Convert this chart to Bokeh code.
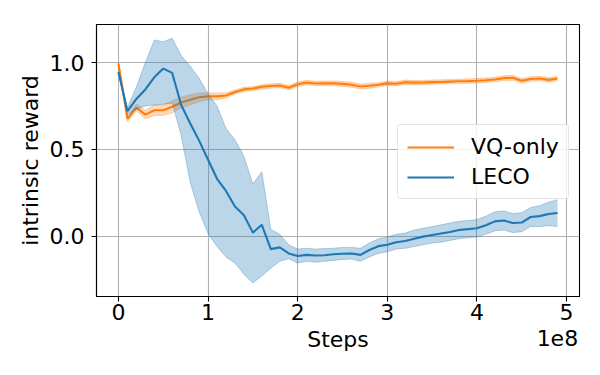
from bokeh.plotting import figure
from bokeh.models import Range1d, FixedTicker, PrintfTickFormatter, CustomJSTickFormatter, Label, Legend, LegendItem
from bokeh.embed import file_html
from bokeh.resources import INLINE

steps = [i * 1e7 for i in range(50)]

leco_mean = [0.945, 0.72, 0.79, 0.845, 0.915, 0.965, 0.94, 0.755, 0.65, 0.55,
             0.44, 0.33, 0.26, 0.17, 0.12, 0.02, 0.065, -0.075, -0.065, -0.10,
             -0.115, -0.108, -0.112, -0.11, -0.105, -0.102, -0.10, -0.108, -0.08, -0.058,
             -0.05, -0.035, -0.028, -0.015, -0.003, 0.006, 0.015, 0.024, 0.035, 0.04,
             0.045, 0.062, 0.085, 0.09, 0.075, 0.078, 0.11, 0.115, 0.127, 0.133]
leco_lo = [0.94, 0.70, 0.73, 0.75, 0.755, 0.76, 0.765, 0.58, 0.31, 0.14,
           0.014, -0.06, -0.12, -0.155, -0.22, -0.27, -0.23, -0.185, -0.145, -0.13,
           -0.155, -0.145, -0.15, -0.145, -0.14, -0.135, -0.132, -0.145, -0.12, -0.10,
           -0.09, -0.075, -0.07, -0.06, -0.05, -0.04, -0.035, -0.025, -0.015, -0.01,
           -0.005, 0.01, 0.03, 0.035, 0.02, 0.025, 0.055, 0.055, 0.06, 0.055]
leco_hi = [0.95, 0.74, 0.86, 1.0, 1.13, 1.12, 1.14, 1.04, 0.98, 0.91,
           0.82, 0.75, 0.62, 0.555, 0.46, 0.30, 0.37, 0.04, 0.01, -0.05,
           -0.075, -0.07, -0.075, -0.072, -0.07, -0.065, -0.065, -0.07, -0.04, -0.015,
           -0.005, 0.01, 0.018, 0.035, 0.045, 0.055, 0.065, 0.075, 0.085, 0.09,
           0.095, 0.115, 0.14, 0.145, 0.13, 0.135, 0.165, 0.175, 0.195, 0.21]

vq_mean = [0.995, 0.675, 0.74, 0.70, 0.725, 0.725, 0.745, 0.77, 0.785, 0.80,
           0.805, 0.805, 0.81, 0.83, 0.845, 0.85, 0.86, 0.865, 0.868, 0.855,
           0.875, 0.885, 0.879, 0.88, 0.88, 0.877, 0.872, 0.862, 0.866, 0.872,
           0.88, 0.878, 0.886, 0.884, 0.885, 0.887, 0.888, 0.89, 0.892, 0.893,
           0.895, 0.898, 0.902, 0.91, 0.912, 0.895, 0.905, 0.908, 0.90, 0.908]
vq_lo = [0.99, 0.66, 0.72, 0.675, 0.695, 0.695, 0.71, 0.74, 0.755, 0.775,
         0.785, 0.785, 0.795, 0.818, 0.833, 0.838, 0.848, 0.853, 0.856, 0.842,
         0.862, 0.872, 0.866, 0.867, 0.866, 0.863, 0.858, 0.848, 0.852, 0.86,
         0.867, 0.865, 0.873, 0.872, 0.873, 0.875, 0.876, 0.878, 0.88, 0.88,
         0.882, 0.885, 0.889, 0.896, 0.898, 0.882, 0.892, 0.895, 0.887, 0.896]
vq_hi = [1.0, 0.69, 0.76, 0.725, 0.755, 0.755, 0.78, 0.80, 0.815, 0.825,
         0.825, 0.825, 0.825, 0.842, 0.857, 0.862, 0.872, 0.877, 0.88, 0.868,
         0.888, 0.898, 0.892, 0.893, 0.894, 0.891, 0.886, 0.876, 0.88, 0.884,
         0.893, 0.891, 0.899, 0.896, 0.897, 0.899, 0.9, 0.902, 0.904, 0.906,
         0.908, 0.911, 0.915, 0.924, 0.926, 0.908, 0.918, 0.921, 0.913, 0.92]

x_ticks = [0, 1e8, 2e8, 3e8, 4e8, 5e8]
y_ticks = [0.0, 0.5, 1.0]

ORANGE = "#ff7f0e"
BLUE = "#1f77b4"
FONT = "DejaVu Sans"
FS = "22px"

p = figure(width=600, height=375, output_backend="svg", toolbar_location=None,
           x_range=Range1d(-0.245e8, 5.145e8), y_range=Range1d(-0.348, 1.219),
           min_border_left=96, min_border_right=21, min_border_top=24, min_border_bottom=79)

p.outline_line_color = "black"
p.outline_line_width = 1.1
p.background_fill_color = "white"
p.border_fill_color = "white"

for ax in (p.xaxis[0], p.yaxis[0]):
    ax.axis_line_color = "black"
    ax.axis_line_width = 1.1
    ax.major_tick_line_color = "black"
    ax.major_tick_line_width = 1.1
    ax.major_tick_out = 5
    ax.major_tick_in = 0
    ax.minor_tick_line_color = None
    ax.major_label_text_font = FONT
    ax.major_label_text_font_size = FS
    ax.major_label_text_color = "black"
    ax.axis_label_text_font = FONT
    ax.axis_label_text_font_size = FS
    ax.axis_label_text_font_style = "normal"
    ax.axis_label_text_color = "black"

p.xaxis.ticker = FixedTicker(ticks=x_ticks)
p.xaxis.formatter = CustomJSTickFormatter(code="return (tick/1e8).toFixed(0);")
p.xaxis.major_label_standoff = 2
p.xaxis.axis_label = "Steps"
p.xaxis.axis_label_standoff = 4

p.yaxis.ticker = FixedTicker(ticks=y_ticks)
p.yaxis.formatter = PrintfTickFormatter(format="%.1f")
p.yaxis.major_label_standoff = 7
p.yaxis.axis_label = "intrinsic reward"
p.yaxis.axis_label_standoff = 4

p.grid.grid_line_color = "#b0b0b0"
p.grid.grid_line_width = 1.1

p.varea(x=steps, y1=vq_lo, y2=vq_hi, fill_color=ORANGE, fill_alpha=0.3)
p.line(x=steps, y=vq_lo, line_color=ORANGE, line_alpha=0.3, line_width=1)
p.line(x=steps, y=vq_hi, line_color=ORANGE, line_alpha=0.3, line_width=1)
l_vq = p.line(x=steps, y=vq_mean, line_color=ORANGE, line_width=2.1)
p.varea(x=steps, y1=leco_lo, y2=leco_hi, fill_color=BLUE, fill_alpha=0.3)
p.line(x=steps, y=leco_lo, line_color=BLUE, line_alpha=0.3, line_width=1)
p.line(x=steps, y=leco_hi, line_color=BLUE, line_alpha=0.3, line_width=1)
l_leco = p.line(x=steps, y=leco_mean, line_color=BLUE, line_width=2.1)

legend = Legend(items=[LegendItem(label="VQ-only", renderers=[l_vq]),
                       LegendItem(label="LECO", renderers=[l_leco])],
                location=(301, 97))
legend.label_text_font = FONT
legend.label_text_font_size = FS
legend.label_text_color = "black"
legend.border_line_color = "#cccccc"
legend.border_line_width = 1
legend.background_fill_alpha = 0.8
legend.padding = 9
legend.margin = 0
legend.spacing = 5
legend.glyph_width = 47
legend.glyph_height = 24
legend.label_height = 24
legend.label_standoff = 17
if "border_radius" in Legend.properties():
    legend.border_radius = 4
p.add_layout(legend, "center")

offset = Label(x=5.13e8, y=-0.585, text="1e8",
               text_font=FONT, text_font_size=FS, text_align="right",
               text_baseline="alphabetic", text_color="black")
p.add_layout(offset, "below")

open("out.html", "w").write(file_html(p, INLINE))
